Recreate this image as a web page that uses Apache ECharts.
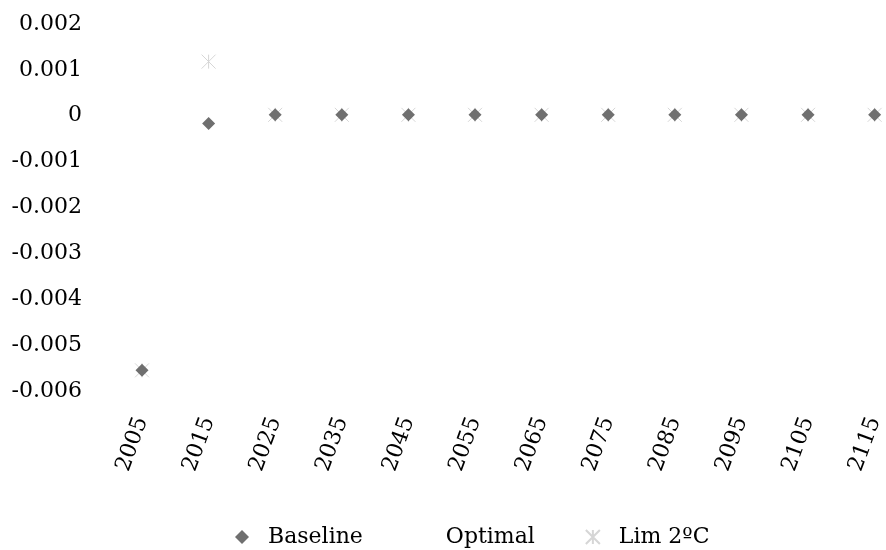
<!DOCTYPE html>
<html>
<head>
<meta charset="utf-8">
<script src="https://cdn.jsdelivr.net/npm/echarts@6/dist/echarts.min.js"></script>
<style>
  html, body { margin: 0; padding: 0; background: #fff; }
  #chart { width: 886px; height: 550px; }
</style>
</head>
<body>
<div id="chart"></div>
<script>
const years = ['2005', '2015', '2025', '2035', '2045', '2055', '2065', '2075', '2085', '2095', '2105', '2115'];
const baseline = [-0.00555, -0.00017, 0.00002, 0.00002, 0.00002, 0.00002, 0.00002, 0.00002, 0.00002, 0.00002, 0.00002, 0.00002];
const optimal = [-0.00555, -0.00017, 0.00002, 0.00002, 0.00002, 0.00002, 0.00002, 0.00002, 0.00002, 0.00002, 0.00002, 0.00002];
const lim2c = [-0.00555, 0.00118, 0.00002, 0.00002, 0.00002, 0.00002, 0.00002, 0.00002, 0.00002, 0.00002, 0.00002, 0.00002];

const font = 'DejaVu Serif';
const star = 'path://M0,0L10,10M10,0L0,10M5,0L5,10';

const chart = echarts.init(document.getElementById('chart'));
chart.setOption({
  animation: false,
  textStyle: { fontFamily: font },
  grid: { left: 142, right: 10, top: 24, bottom: 159 },
  legend: {
    data: ['Baseline', 'Optimal', 'Lim 2ºC'],
    top: 521,
    left: 230,
    itemWidth: 14,
    itemHeight: 14,
    itemGap: 50,
    textStyle: { fontFamily: font, fontSize: 22, color: '#000', padding: [0, 0, 0, 14] }
  },
  xAxis: {
    type: 'category',
    data: years,
    boundaryGap: false,
    axisLine: { show: false },
    axisTick: { show: false },
    axisLabel: { rotate: 70, margin: 27, fontSize: 22, color: '#000', fontFamily: font, interval: 0 }
  },
  yAxis: {
    type: 'value',
    min: -0.006,
    max: 0.002,
    interval: 0.001,
    splitLine: { show: false },
    axisLine: { show: false },
    axisTick: { show: false },
    axisLabel: { margin: 60, fontSize: 22, color: '#000', fontFamily: font, padding: [5, 0, 0, 0] }
  },
  series: [
    {
      name: 'Baseline',
      type: 'scatter',
      data: baseline,
      symbol: 'diamond',
      symbolSize: 13,
      z: 3,
      itemStyle: { color: '#6f6f6f', opacity: 1 }
    },
    {
      name: 'Optimal',
      type: 'scatter',
      data: optimal,
      symbol: 'circle',
      symbolSize: 1,
      z: 1,
      itemStyle: { color: 'rgba(255,255,255,0)' }
    },
    {
      name: 'Lim 2ºC',
      type: 'scatter',
      data: lim2c,
      symbol: star,
      symbolSize: 14,
      z: 2,
      itemStyle: { color: 'rgba(0,0,0,0)', borderColor: '#d6d6d6', borderWidth: 1, opacity: 1 }
    }
  ]
});
</script>
</body>
</html>
